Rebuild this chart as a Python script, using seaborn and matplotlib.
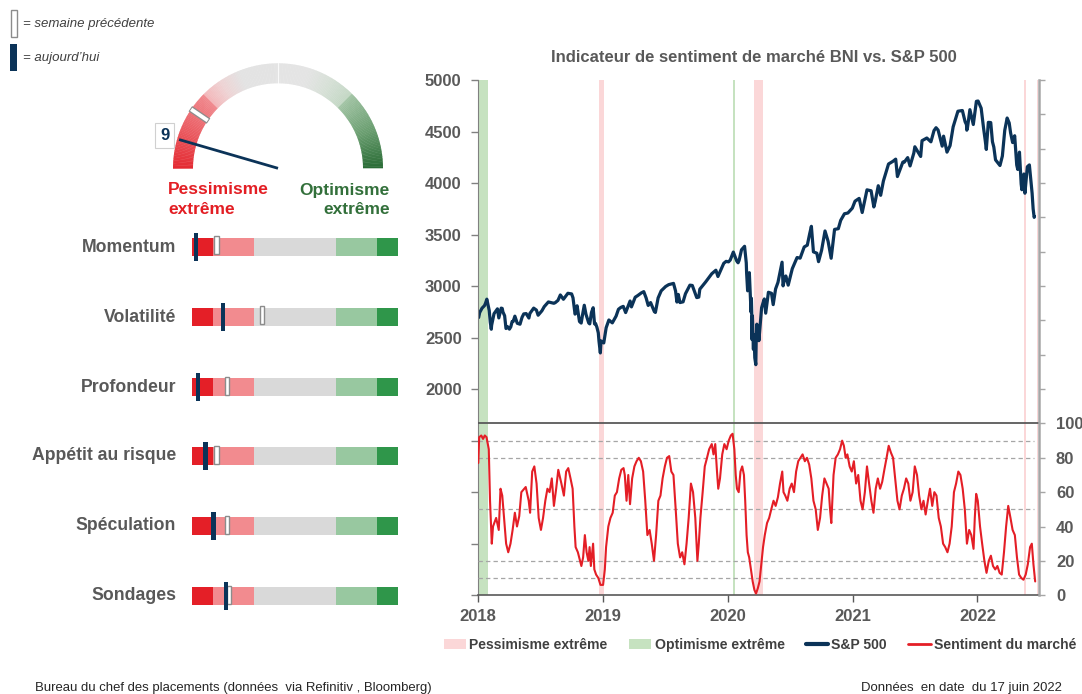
import numpy as np
import pandas as pd
import matplotlib
matplotlib.use("Agg")
import matplotlib.pyplot as plt
import seaborn as sns
from matplotlib.patches import Wedge, Patch, Rectangle
from matplotlib.lines import Line2D
from matplotlib import font_manager
from matplotlib.colors import LinearSegmentedColormap

# ---------------- data ----------------
sp_dates = [
    "2018-01-02", "2018-01-05", "2018-01-12", "2018-01-19", "2018-01-22", "2018-01-26", "2018-02-02",
    "2018-02-05", "2018-02-08", "2018-02-09", "2018-02-14", "2018-02-16", "2018-02-26", "2018-03-02",
    "2018-03-09", "2018-03-12", "2018-03-14", "2018-03-19", "2018-03-23", "2018-03-28", "2018-04-02",
    "2018-04-06", "2018-04-10", "2018-04-13", "2018-04-18", "2018-04-25", "2018-05-03", "2018-05-09",
    "2018-05-14", "2018-05-21", "2018-05-29", "2018-06-01", "2018-06-12", "2018-06-20", "2018-06-25",
    "2018-07-06", "2018-07-13", "2018-07-25", "2018-08-10", "2018-08-14", "2018-08-22", "2018-08-29",
    "2018-09-07", "2018-09-20", "2018-10-01", "2018-10-05", "2018-10-11", "2018-10-15", "2018-10-17",
    "2018-10-24", "2018-10-29", "2018-11-02", "2018-11-07", "2018-11-12", "2018-11-20", "2018-11-23",
    "2018-11-28", "2018-12-03", "2018-12-07", "2018-12-10", "2018-12-14", "2018-12-18", "2018-12-20",
    "2018-12-24", "2018-12-26", "2019-01-03", "2019-01-10", "2019-01-18", "2019-01-28", "2019-02-08",
    "2019-02-15", "2019-02-22", "2019-03-01", "2019-03-08", "2019-03-21", "2019-03-25", "2019-04-05",
    "2019-04-12", "2019-04-23", "2019-04-30", "2019-05-07", "2019-05-13", "2019-05-20", "2019-05-31",
    "2019-06-03", "2019-06-11", "2019-06-20", "2019-07-03", "2019-07-12", "2019-07-26", "2019-08-01",
    "2019-08-05", "2019-08-09", "2019-08-14", "2019-08-23", "2019-08-30", "2019-09-12", "2019-09-19",
    "2019-10-02", "2019-10-08", "2019-10-11", "2019-10-28", "2019-11-05", "2019-11-15", "2019-11-27",
    "2019-12-03", "2019-12-13", "2019-12-20", "2019-12-27", "2020-01-03", "2020-01-08", "2020-01-17",
    "2020-01-27", "2020-01-31", "2020-02-03", "2020-02-10", "2020-02-19", "2020-02-24", "2020-02-25",
    "2020-02-28", "2020-03-02", "2020-03-04", "2020-03-06", "2020-03-09", "2020-03-10", "2020-03-11",
    "2020-03-12", "2020-03-13", "2020-03-16", "2020-03-17", "2020-03-18", "2020-03-19", "2020-03-20",
    "2020-03-23", "2020-03-24", "2020-03-26", "2020-03-27", "2020-03-31", "2020-04-01", "2020-04-06",
    "2020-04-09", "2020-04-14", "2020-04-17", "2020-04-21", "2020-04-29", "2020-05-08", "2020-05-13",
    "2020-05-20", "2020-05-27", "2020-06-08", "2020-06-11", "2020-06-15", "2020-06-19", "2020-06-26",
    "2020-07-08", "2020-07-22", "2020-07-31", "2020-08-12", "2020-08-21", "2020-08-28", "2020-09-02",
    "2020-09-08", "2020-09-18", "2020-09-23", "2020-10-02", "2020-10-12", "2020-10-21", "2020-10-30",
    "2020-11-09", "2020-11-20", "2020-11-27", "2020-12-08", "2020-12-18", "2020-12-31", "2021-01-08",
    "2021-01-20", "2021-01-29", "2021-02-12", "2021-02-24", "2021-03-04", "2021-03-08", "2021-03-17",
    "2021-03-24", "2021-04-01", "2021-04-16", "2021-04-29", "2021-05-07", "2021-05-12", "2021-05-28",
    "2021-06-01", "2021-06-11", "2021-06-18", "2021-06-29", "2021-07-02", "2021-07-19", "2021-07-23",
    "2021-08-06", "2021-08-18", "2021-08-27", "2021-09-02", "2021-09-08", "2021-09-20", "2021-09-24",
    "2021-10-04", "2021-10-13", "2021-10-22", "2021-11-05", "2021-11-18", "2021-11-26", "2021-11-30",
    "2021-12-01", "2021-12-03", "2021-12-10", "2021-12-20", "2021-12-29", "2022-01-03", "2022-01-12",
    "2022-01-19", "2022-01-24", "2022-01-27", "2022-02-02", "2022-02-09", "2022-02-14", "2022-02-18",
    "2022-02-23", "2022-03-08", "2022-03-15", "2022-03-22", "2022-03-29", "2022-04-04", "2022-04-08",
    "2022-04-14", "2022-04-20", "2022-04-26", "2022-04-29", "2022-05-04", "2022-05-09", "2022-05-11",
    "2022-05-17", "2022-05-20", "2022-05-27", "2022-06-02", "2022-06-10", "2022-06-13", "2022-06-16",
    "2022-06-17",
]
sp_values = [
    2695, 2743, 2786, 2810, 2833, 2873, 2762,
    2649, 2581, 2620, 2698, 2732, 2779, 2691,
    2786, 2783, 2749, 2712, 2588, 2605, 2582,
    2604, 2656, 2656, 2708, 2639, 2630, 2697,
    2730, 2733, 2690, 2735, 2786, 2767, 2717,
    2760, 2801, 2846, 2833, 2839, 2861, 2914,
    2872, 2930, 2924, 2886, 2728, 2750, 2809,
    2656, 2641, 2723, 2814, 2726, 2642, 2633,
    2744, 2790, 2633, 2637, 2600, 2546, 2467,
    2351, 2468, 2448, 2596, 2671, 2643, 2708,
    2775, 2793, 2803, 2743, 2855, 2798, 2892,
    2907, 2934, 2946, 2884, 2812, 2840, 2752,
    2744, 2885, 2954, 2996, 3014, 3026, 2953,
    2845, 2919, 2840, 2847, 2926, 3009, 3006,
    2888, 2893, 2970, 3040, 3075, 3120, 3154,
    3093, 3169, 3221, 3240, 3235, 3253, 3330,
    3244, 3226, 3249, 3352, 3386, 3225, 3128,
    2954, 3090, 3130, 2972, 2747, 2882, 2741,
    2481, 2711, 2386, 2529, 2398, 2409, 2305,
    2237, 2447, 2630, 2541, 2585, 2470, 2664,
    2790, 2846, 2875, 2737, 2940, 2930, 2820,
    2972, 3036, 3232, 3002, 3066, 3098, 3009,
    3169, 3277, 3271, 3380, 3397, 3508, 3580,
    3332, 3319, 3237, 3348, 3535, 3435, 3270,
    3550, 3557, 3638, 3702, 3709, 3756, 3824,
    3851, 3714, 3934, 3925, 3768, 3821, 3974,
    3881, 4020, 4185, 4211, 4232, 4063, 4204,
    4202, 4247, 4166, 4291, 4352, 4258, 4411,
    4437, 4400, 4509, 4537, 4514, 4358, 4455,
    4300, 4363, 4545, 4697, 4704, 4595, 4567,
    4513, 4538, 4712, 4568, 4793, 4796, 4726,
    4533, 4410, 4326, 4589, 4587, 4401, 4349,
    4225, 4170, 4262, 4512, 4631, 4583, 4488,
    4393, 4459, 4175, 4132, 4300, 3991, 3935,
    4088, 3901, 4158, 4176, 3901, 3750, 3667,
    3675,
]

# sentiment index, time in fractional years
sent_t = [
    2018.000, 2018.007, 2018.024, 2018.038, 2018.052, 2018.066, 2018.084, 2018.094, 2018.108, 2018.118,
    2018.143, 2018.164, 2018.178, 2018.192, 2018.206, 2018.223, 2018.240, 2018.258, 2018.275, 2018.293,
    2018.310, 2018.328, 2018.345, 2018.380, 2018.404, 2018.415, 2018.432, 2018.449, 2018.467, 2018.484,
    2018.502, 2018.519, 2018.537, 2018.554, 2018.571, 2018.589, 2018.606, 2018.624, 2018.641, 2018.666,
    2018.686, 2018.704, 2018.721, 2018.739, 2018.756, 2018.770, 2018.780, 2018.798, 2018.815, 2018.826,
    2018.840, 2018.854, 2018.868, 2018.882, 2018.892, 2018.902, 2018.920, 2018.930, 2018.944, 2018.962,
    2018.979, 2019.000, 2019.014, 2019.024, 2019.042, 2019.059, 2019.077, 2019.094, 2019.111, 2019.129,
    2019.146, 2019.164, 2019.174, 2019.188, 2019.202, 2019.216, 2019.233, 2019.251, 2019.268, 2019.286,
    2019.303, 2019.321, 2019.338, 2019.355, 2019.373, 2019.390, 2019.408, 2019.425, 2019.443, 2019.460,
    2019.477, 2019.495, 2019.512, 2019.530, 2019.547, 2019.564, 2019.582, 2019.599, 2019.617, 2019.634,
    2019.652, 2019.669, 2019.686, 2019.704, 2019.721, 2019.739, 2019.756, 2019.767, 2019.780, 2019.798,
    2019.815, 2019.833, 2019.850, 2019.871, 2019.885, 2019.899, 2019.913, 2019.923, 2019.937, 2019.955,
    2019.972, 2019.990, 2020.007, 2020.024, 2020.038, 2020.052, 2020.063, 2020.073, 2020.087, 2020.101,
    2020.115, 2020.129, 2020.139, 2020.150, 2020.160, 2020.171, 2020.185, 2020.199, 2020.213, 2020.226,
    2020.240, 2020.254, 2020.268, 2020.282, 2020.296, 2020.314, 2020.331, 2020.348, 2020.366, 2020.383,
    2020.401, 2020.418, 2020.436, 2020.446, 2020.460, 2020.477, 2020.495, 2020.512, 2020.530, 2020.547,
    2020.564, 2020.582, 2020.599, 2020.617, 2020.634, 2020.652, 2020.669, 2020.686, 2020.704, 2020.721,
    2020.739, 2020.756, 2020.774, 2020.791, 2020.808, 2020.819, 2020.829, 2020.847, 2020.864, 2020.882,
    2020.899, 2020.916, 2020.930, 2020.944, 2020.958, 2020.976, 2020.993, 2021.010, 2021.028, 2021.045,
    2021.063, 2021.080, 2021.098, 2021.115, 2021.132, 2021.150, 2021.167, 2021.185, 2021.202, 2021.220,
    2021.237, 2021.254, 2021.272, 2021.289, 2021.307, 2021.324, 2021.341, 2021.359, 2021.376, 2021.394,
    2021.411, 2021.429, 2021.446, 2021.463, 2021.481, 2021.498, 2021.516, 2021.533, 2021.551, 2021.568,
    2021.585, 2021.603, 2021.620, 2021.638, 2021.655, 2021.672, 2021.690, 2021.707, 2021.725, 2021.742,
    2021.760, 2021.777, 2021.794, 2021.812, 2021.829, 2021.847, 2021.864, 2021.882, 2021.899, 2021.916,
    2021.934, 2021.951, 2021.969, 2021.979, 2021.990, 2022.003, 2022.021, 2022.038, 2022.056, 2022.073,
    2022.091, 2022.108, 2022.125, 2022.143, 2022.160, 2022.178, 2022.195, 2022.213, 2022.230, 2022.247,
    2022.265, 2022.282, 2022.300, 2022.317, 2022.334, 2022.352, 2022.369, 2022.387, 2022.404, 2022.422,
    2022.436, 2022.449, 2022.463,
]
sent_v = [
    77, 92, 93, 91, 93, 92, 85, 55, 30, 40,
    45, 38, 62, 58, 45, 30, 25, 30, 38, 48,
    40, 46, 60, 63, 55, 48, 72, 75, 65, 45,
    38, 45, 55, 62, 60, 68, 52, 62, 73, 65,
    58, 72, 74, 68, 62, 40, 28, 25, 20, 17,
    22, 35, 25, 20, 28, 17, 30, 15, 12, 10,
    6, 6, 15, 28, 40, 45, 48, 58, 60, 68,
    73, 74, 70, 55, 70, 53, 68, 75, 78, 80,
    78, 72, 55, 35, 38, 30, 20, 35, 55, 58,
    68, 75, 80, 81, 72, 70, 50, 30, 22, 25,
    18, 30, 45, 65, 60, 45, 20, 30, 45, 60,
    75, 80, 85, 88, 82, 88, 72, 62, 68, 82,
    88, 85, 90, 93, 94, 85, 70, 62, 60, 72,
    75, 70, 55, 35, 25, 22, 15, 8, 3, 1,
    4, 8, 18, 28, 35, 42, 45, 50, 55, 52,
    57, 65, 72, 60, 58, 55, 62, 65, 60, 72,
    78, 80, 82, 78, 80, 76, 68, 55, 50, 38,
    45, 58, 68, 65, 62, 50, 42, 70, 80, 82,
    85, 90, 87, 80, 82, 75, 72, 78, 65, 70,
    55, 50, 60, 75, 65, 55, 48, 62, 68, 62,
    66, 73, 80, 87, 83, 80, 68, 55, 50, 58,
    62, 68, 65, 55, 60, 75, 70, 58, 50, 55,
    47, 55, 62, 52, 60, 58, 45, 40, 30, 28,
    25, 30, 40, 60, 65, 72, 70, 62, 50, 30,
    38, 35, 27, 45, 59, 55, 40, 30, 20, 13,
    20, 23, 17, 15, 17, 13, 12, 25, 40, 52,
    45, 38, 35, 22, 12, 10, 9, 12, 18, 28,
    30, 18, 8,
]

pess_start = [2018.967, 2020.212, 2022.376, 2022.478]
pess_end = [2019.005, 2020.280, 2022.389, 2022.489]
opt_start = [2018.000, 2020.043]
opt_end = [2018.078, 2020.059]

years = [2018, 2019, 2020, 2021, 2022]
sp_ticks = list(range(0, 5001, 500))
sent_ticks = list(range(0, 301, 20))
sent_ref_levels = [10, 20, 50, 80, 90]

indicators = ["Momentum", "Volatilité", "Profondeur", "Appétit au risque", "Spéculation", "Sondages"]
ind_today = [2, 15, 3, 6.5, 10.5, 16.5]
ind_prev = [12, 34, 17, 12, 17, 18]
zone_bounds = [0, 10, 30, 70, 90, 100]
zone_colors = ["#e41f27", "#f28b8f", "#d9d9d9", "#98c8a0", "#2f964a"]

gauge_today = 9
gauge_prev = 19

# ---------------- style ----------------
sns.set_style("ticks")
avail = {f.name for f in font_manager.fontManager.ttflist}
BASE = "Liberation Sans" if "Liberation Sans" in avail else "DejaVu Sans"
if "Liberation Sans Narrow" in avail:
    NARROW, NSCALE = "Liberation Sans Narrow", 1.0
else:
    NARROW, NSCALE = BASE, 0.84
plt.rcParams["font.family"] = [BASE, "DejaVu Sans"]

NAVY = "#0b3358"
RED = "#e41e26"
GRAY_T = "#595959"
PINK_BAND = "#fbd7d8"
GREEN_BAND = "#c6e2c0"

W, H = 1082, 694
fig = plt.figure(figsize=(W / 100, H / 100), dpi=100)


def fx(px):
    return px / W


def fy(py):
    return 1 - py / H


# ---------------- main chart ----------------
L, R, T, B = 478.3, 1039.3, 80, 595.2
ax1 = fig.add_axes([fx(L), fy(B), (R - L) / W, (B - T) / H])
ax2 = ax1.twinx()

for a, b in zip(pess_start, pess_end):
    ax1.axvspan(a, b, color=PINK_BAND, lw=0, zorder=0)
for a, b in zip(opt_start, opt_end):
    ax1.axvspan(a, b, color=GREEN_BAND, lw=0, zorder=0)

sp = pd.to_datetime(sp_dates)
sp_t = sp.year + (sp.dayofyear - 1) / np.where(sp.is_leap_year, 366, 365)
sns.lineplot(x=np.asarray(sp_t, float), y=sp_values, ax=ax1, color=NAVY, linewidth=2.3, legend=False)

ax2.hlines(sent_ref_levels, 2018.0, 2022.455, colors="#a6a6a6", linestyles=(0, (3.5, 2.5)), lw=0.9, zorder=1)
ax2.axhline(100, color="#595959", lw=1.3, zorder=2)
sns.lineplot(x=sent_t, y=sent_v, ax=ax2, color=RED, linewidth=1.5, legend=False)

ax1.set_xlim(2018.0, 2022.496)
ax1.set_ylim(0, 5000)
ax2.set_ylim(0, 300)
ax1.set_xlabel("")
ax1.set_ylabel("")
ax2.set_ylabel("")

ax1.set_yticks(sp_ticks)
ax1.set_yticklabels([str(v) if v >= 2000 else "" for v in sp_ticks], fontweight="bold")
ax1.set_xticks(years)
ax1.set_xticklabels([str(y) for y in years], fontweight="bold")
ax2.set_yticks(sent_ticks)
ax2.set_yticklabels([str(v) if v <= 100 else "" for v in sent_ticks], fontweight="bold")

ax1.tick_params(axis="y", direction="out", length=5, width=1, color="#808080", pad=7,
                labelsize=12, labelcolor=GRAY_T)
ax1.tick_params(axis="x", direction="out", length=5, width=1, color="#595959", pad=5,
                labelsize=12, labelcolor=GRAY_T)
ax2.tick_params(axis="y", direction="out", length=4, width=1, color="#a6a6a6", pad=8,
                labelsize=12, labelcolor=GRAY_T)

for ax in (ax1, ax2):
    ax.spines["top"].set_visible(False)
    ax.grid(False)
ax1.spines["left"].set_color("#808080")
ax1.spines["bottom"].set_color("#595959")
ax1.spines["bottom"].set_linewidth(1.2)
ax2.spines["right"].set_color("#a6a6a6")
ax2.spines["right"].set_linewidth(1.8)
ax2.spines["left"].set_visible(False)
ax2.spines["bottom"].set_visible(False)
ax1.spines["right"].set_visible(False)

fig.text(fx(753.5), fy(57), "Indicateur de sentiment de marché BNI vs. S&P 500", ha="center", va="center",
         fontsize=12, fontweight="bold", color=GRAY_T)

handles = [Patch(facecolor=PINK_BAND, edgecolor="none"), Patch(facecolor=GREEN_BAND, edgecolor="none"),
           Line2D([], [], color=NAVY, lw=3), Line2D([], [], color=RED, lw=2)]
labels = ["Pessimisme extrême", "Optimisme extrême", "S&P 500", "Sentiment du marché"]
leg = fig.legend(handles, labels, loc="center right", bbox_to_anchor=(fx(1089), fy(645)), ncol=4,
                 frameon=False, handlelength=1.6, handletextpad=0.25, columnspacing=1.5,
                 prop={"family": NARROW, "weight": "bold", "size": 12 * NSCALE})
for t in leg.get_texts():
    t.set_color("#404040")

fig.text(fx(35), fy(688), "Bureau du chef des placements (données  via Refinitiv , Bloomberg)",
         ha="left", va="center", fontsize=11.3 * NSCALE, family=NARROW, color="#262626")
fig.text(fx(1062), fy(688), "Données  en date  du 17 juin 2022",
         ha="right", va="center", fontsize=11.2 * NSCALE, family=NARROW, color="#262626")

# ---------------- top-left legend ----------------
axl = fig.add_axes([0, 0, 1, 1], zorder=5)
axl.set_xlim(0, W)
axl.set_ylim(H, 0)
axl.axis("off")
axl.add_patch(Rectangle((10.7, 10), 6.4, 26.5, fc="white", ec="#8c8c8c", lw=1))
axl.add_patch(Rectangle((9.5, 43.5), 7.8, 27.5, fc=NAVY, ec="none"))
fig.text(fx(23), fy(24), "= semaine précédente", ha="left", va="center", fontsize=9.5, style="italic", color="#404040")
fig.text(fx(23), fy(58), "= aujourd’hui", ha="left", va="center", fontsize=9.5, style="italic", color="#404040")

# ---------------- gauge ----------------
gx0, gx1, gy0, gy1 = 140, 400, 52, 182
cx, cy = 278, 168.3
axg = fig.add_axes([fx(gx0), fy(gy1), (gx1 - gx0) / W, (gy1 - gy0) / H])
axg.set_xlim(gx0 - cx, gx1 - cx)
axg.set_ylim(cy - gy1, cy - gy0)
axg.axis("off")

gcmap = LinearSegmentedColormap.from_list("g", [
    (0.0, "#e42a32"), (0.12, "#ea5a60"), (0.249, "#f0898e"), (0.25, "#f3b6b9"),
    (0.31, "#efd2d3"), (0.38, "#e3e3e3"), (0.6, "#e4e4e4"), (0.68, "#d6e0d6"),
    (0.749, "#c4d8c5"), (0.75, "#a3c5a6"), (0.88, "#6a9e70"), (1.0, "#2a6c36")])
R_OUT, R_W = 105, 20
N = 200
for k in range(N):
    v0, v1 = 100 * k / N, 100 * (k + 1) / N
    th1, th2 = 180 - v1 * 1.8, 180 - v0 * 1.8
    axg.add_patch(Wedge((0, 0), R_OUT, th1, th2 + 0.25, width=R_W, fc=gcmap((v0 + v1) / 200), ec="none"))
axg.plot([0, 0], [R_OUT - R_W, R_OUT], color="white", lw=0.8, alpha=0.8)

# previous week marker
ang = np.deg2rad(180 - gauge_prev * 1.8)
rr = np.array([R_OUT - R_W - 1, R_OUT + 1])
axg.plot(rr * np.cos(ang), rr * np.sin(ang), color="#8c8c8c", lw=4.6, solid_capstyle="butt")
rr2 = np.array([R_OUT - R_W, R_OUT])
axg.plot(rr2 * np.cos(ang), rr2 * np.sin(ang), color="white", lw=2.8, solid_capstyle="butt")

# needle
ang = np.deg2rad(180 - gauge_today * 1.8)
axg.plot([0, 103 * np.cos(ang)], [0, 103 * np.sin(ang)], color=NAVY, lw=2, solid_capstyle="butt")
axg.text(118 * np.cos(ang), 118 * np.sin(ang), str(gauge_today), ha="center", va="center",
         fontsize=12, fontweight="bold", color=NAVY,
         bbox=dict(boxstyle="square,pad=0.3", fc="white", ec="#d0d0d0", lw=0.8))

fig.text(fx(168), fy(194.5), "Pessimisme", ha="left", va="baseline", fontsize=12.5, fontweight="bold", color="#e31e24")
fig.text(fx(168), fy(213.5), "extrême", ha="left", va="baseline", fontsize=12.5, fontweight="bold", color="#e31e24")
fig.text(fx(390), fy(194.5), "Optimisme", ha="right", va="baseline", fontsize=12.5, fontweight="bold", color="#33703b")
fig.text(fx(390), fy(213.5), "extrême", ha="right", va="baseline", fontsize=12.5, fontweight="bold", color="#33703b")

# ---------------- indicator bars ----------------
row_y = [247, 317, 387, 456, 526, 596]
bx0, bx1 = 192, 397.5
for name, today, prev, yc in zip(indicators, ind_today, ind_prev, row_y):
    ax = fig.add_axes([fx(bx0), fy(yc + 18), (bx1 - bx0) / W, 36 / H])
    ax.set_xlim(0, 100)
    ax.set_ylim(-18, 18)
    ax.axis("off")
    for a, b, c in zip(zone_bounds[:-1], zone_bounds[1:], zone_colors):
        ax.barh(0, b - a, left=a, height=17.7, color=c, lw=0)
    ax.barh(1.5, 2.2, left=prev - 1.1, height=18, color="white", edgecolor="#8c8c8c", lw=1)
    ax.barh(0, 2.1, left=today - 1.05, height=28.5, color=NAVY, lw=0)
    fig.text(fx(176), fy(yc), name, ha="right", va="center", fontsize=12.7, fontweight="bold", color=GRAY_T)

fig.savefig("out.png", dpi=100)
